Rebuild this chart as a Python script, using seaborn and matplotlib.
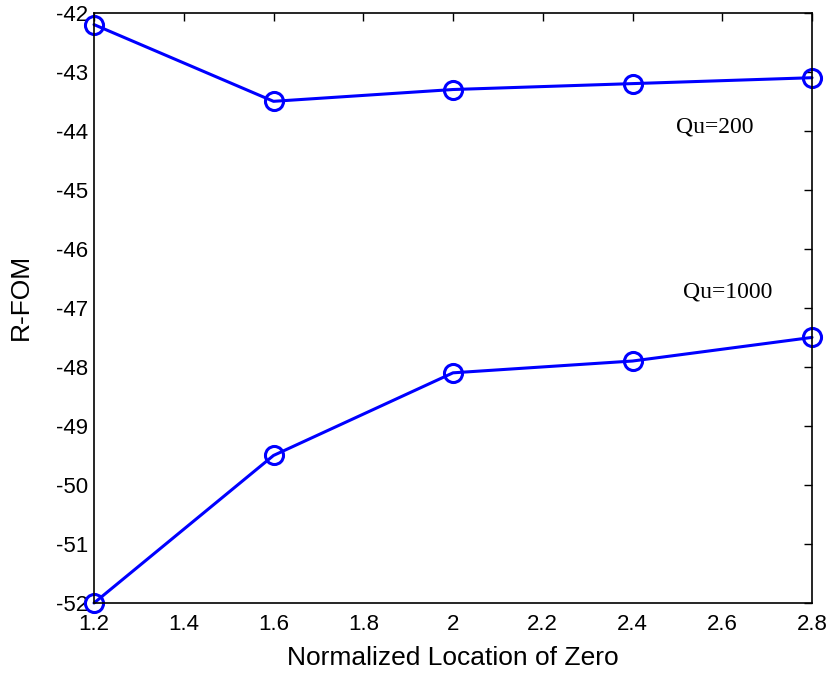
import numpy as np
import pandas as pd
import matplotlib
matplotlib.use('Agg')
import matplotlib.pyplot as plt
import seaborn as sns

# data
zero_loc = [1.2, 1.6, 2.0, 2.4, 2.8]
fom_qu200 = [-42.2, -43.5, -43.3, -43.2, -43.1]
fom_qu1000 = [-52.0, -49.5, -48.1, -47.9, -47.5]

df = pd.DataFrame({
    'x': zero_loc * 2,
    'y': fom_qu200 + fom_qu1000,
    'Qu': ['200'] * 5 + ['1000'] * 5,
})

sns.set_style('white')
plt.rcParams['font.family'] = ['Liberation Sans', 'DejaVu Sans']
plt.rcParams['axes.unicode_minus'] = False
plt.rcParams['text.color'] = 'black'
plt.rcParams['axes.labelcolor'] = 'black'
plt.rcParams['xtick.color'] = 'black'
plt.rcParams['ytick.color'] = 'black'

fig = plt.figure(figsize=(8.32, 6.73), dpi=100)
ax = fig.add_axes([0.113, 0.104, 0.863, 0.877])

for q in ['200', '1000']:
    sub = df[df.Qu == q]
    sns.lineplot(data=sub, x='x', y='y', ax=ax, color='blue', linewidth=2.2,
                 marker='o', markersize=13, markerfacecolor='none',
                 markeredgecolor='blue', markeredgewidth=2.2, clip_on=False)

ax.text(2.584, -43.93, 'Qu=200', family='Liberation Serif', fontsize=17,
        ha='center', va='center')
ax.text(2.612, -46.73, 'Qu=1000', family='Liberation Serif', fontsize=17,
        ha='center', va='center')

ax.set_xlim(1.2, 2.8)
ax.set_ylim(-52, -42)
ax.set_xticks(np.arange(1.2, 2.81, 0.2))
ax.set_xticklabels(['1.2', '1.4', '1.6', '1.8', '2', '2.2', '2.4', '2.6', '2.8'])
ax.set_yticks(range(-52, -41))
ax.set_xlabel('Normalized Location of Zero', fontsize=19, labelpad=8)
ax.set_ylabel('R-FOM', fontsize=19)
ax.yaxis.set_label_coords(-0.085, 0.519)
ax.tick_params(direction='in', top=True, right=True, length=6, width=1,
               labelsize=16, color='black', labelcolor='black')
ax.tick_params(axis='x', pad=8)
ax.tick_params(axis='y', pad=4)
for s in ax.spines.values():
    s.set_color('black')
    s.set_linewidth(1.2)

plt.savefig('out.png', dpi=100)
